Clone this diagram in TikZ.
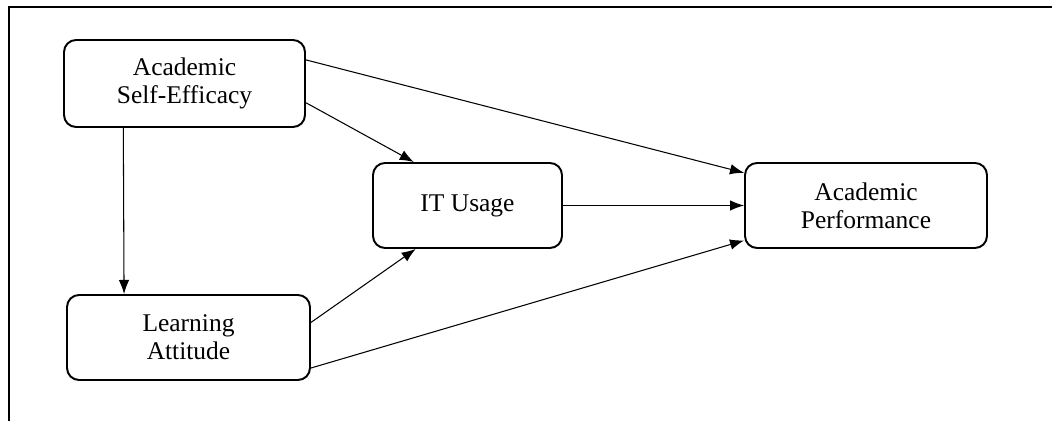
\documentclass[tikz,border=0pt]{standalone}
\usepackage{fontspec}
\setmainfont{Liberation Serif}
\usetikzlibrary{arrows.meta}
\begin{document}
\begin{tikzpicture}[x=0.02cm, y=-0.02cm]
    \useasboundingbox (0,0) rectangle (1052,421);
    \draw[line width=1.2pt] (9,421) -- (9,7) -- (1052,7);
    \begin{scope}
        \tikzstyle{every node}=[fill=white, draw=black, rectangle, rounded corners=0.24cm, line width=1.1pt, text=black, align=center, minimum height=1.7cm, font=\fontsize{14.5}{16}\selectfont]
        \node[minimum width=4.82cm, minimum height=1.74cm] (ase) at (184.5,83.5) {Academic\\Self-Efficacy};
        \node[minimum width=3.78cm] (it) at (467.5,205.5) {IT Usage};
        \node[minimum width=4.84cm] (ap) at (866,205.5) {Academic\\Performance};
        \node[minimum width=4.86cm] (la) at (188.5,337.5) {Learning\\Attitude};
    \end{scope}
    \begin{scope}
        \tikzstyle{every edge}=[draw, line width=0.6pt, -{Latex[length=8pt,width=6pt]}]
        \path
        (ase.216) edge[] (la.146)
        (ase.-9.6) edge[] (it.141)
        (ase.11.9) edge[] (ap.165)
        (it.east) edge[] (ap.west)
        (la.7.3) edge[] (it.220)
        (la.-14.1) edge[] (ap.196)
        ;
    \end{scope}
\end{tikzpicture}
\end{document}
